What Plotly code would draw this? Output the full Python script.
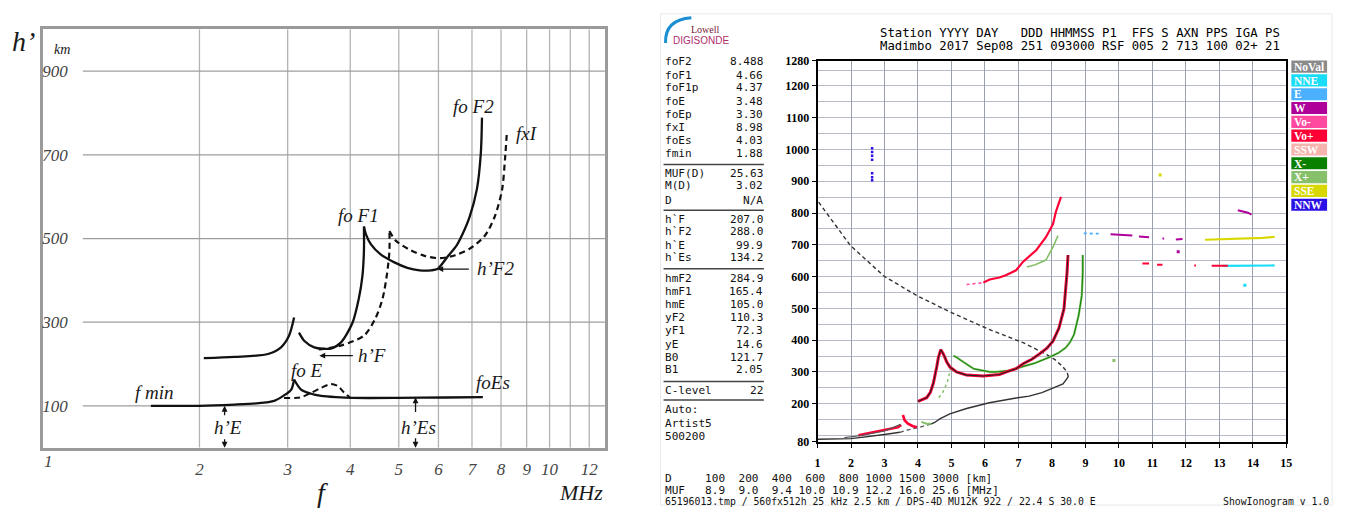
import numpy as np
import plotly.graph_objects as go

W, H = 1347, 515
def px(x): return x / W
def py(y): return 1 - y / H

# ================= LEFT PANEL DATA (schematic ionogram) =================
left_xticks = [1, 2, 3, 4, 5, 6, 7, 8, 9, 10, 12]
left_xgrid = [2, 3, 4, 5, 6, 7, 8, 9, 10, 11, 12]
left_yticks = [100, 300, 500, 700, 900]

e_o_f = [1.60, 2.0, 2.35, 2.6, 2.82, 2.95, 3.05, 3.09]
e_o_h = [100, 100, 103, 106, 112, 125, 139, 163]
es_f = [3.09, 3.19, 3.34, 3.5, 3.75, 4.05, 5.0, 6.2, 7.36]
es_h = [163, 139, 129, 124, 121, 119, 119, 120, 121]
e_x_f = [2.95, 3.1, 3.2, 3.34, 3.5, 3.66, 3.78, 3.88, 4.0]
e_x_h = [119, 119, 121, 131, 143, 152, 147, 133, 119]
f_lo1_f = [2.04, 2.35, 2.74, 2.91, 3.02, 3.09]
f_lo1_h = [214, 217, 224, 240, 268, 311]
f_lo2_f = [3.16, 3.24, 3.39, 3.66, 3.83, 4.04, 4.16, 4.23, 4.26, 4.26]
f_lo2_h = [275, 255, 240, 237, 251, 298, 356, 410, 471, 529]
f2_o_f = [4.26, 4.30, 4.40, 4.60, 4.90, 5.20, 5.50, 5.80, 5.97, 6.25, 6.52, 6.70, 6.93, 7.16, 7.29, 7.33]
f2_o_h = [529, 510, 486, 462, 443, 430, 424, 424, 427, 456, 483, 510, 553, 618, 703, 789]
f_x_lo_f = [3.46, 3.83, 4.26, 4.49, 4.64, 4.74, 4.79, 4.79]
f_x_lo_h = [235, 244, 268, 309, 356, 418, 472, 518]
f2_x_f = [4.79, 4.93, 5.28, 5.65, 6.05, 6.48, 6.93, 7.42, 7.77, 8.04, 8.15, 8.22]
f2_x_h = [518, 495, 472, 458, 453, 460, 476, 506, 552, 617, 692, 756]

# ================= RIGHT PANEL DATA (Digisonde ionogram) =================
right_xticks = list(range(1, 16))
right_yticks = [80, 200, 300, 400, 500, 600, 700, 800, 900, 1000, 1100, 1200, 1280]

prof_lo_f = [1.0, 2.0, 3.0, 3.46]
prof_lo_h = [88, 90, 103, 110]
prof_val_f = [3.46, 3.67, 3.97, 4.36]
prof_val_h = [110, 117, 124, 135]
prof_f_f = [4.36, 4.5, 4.65, 4.95, 5.45, 6.13, 6.93, 7.32, 7.7, 8.03, 8.33, 8.42, 8.49]
prof_f_h = [135, 141, 152, 168, 185, 203, 218, 224, 235, 249, 262, 275, 285]
prof_top_f = [8.49, 8.45, 8.33, 8.1, 7.82, 7.14, 6.14, 5.25, 4.95, 3.97, 2.99, 1.98, 1.02]
prof_top_h = [285, 300, 316, 338, 356, 392, 433, 475, 489, 540, 601, 698, 836]

hE_f = [1.8, 2.3, 3.0, 3.48]
hE_h = [93, 100, 114, 135]
redE_f = [2.22, 2.5, 2.8, 3.0, 3.2, 3.4, 3.5]
redE_h = [101, 107, 112, 117, 121, 126, 133]
redEs_f = [3.55, 3.6, 3.7, 3.85, 3.97]
redEs_h = [165, 148, 137, 129, 126]
grEs_f = [4.1, 4.25, 4.4]
grEs_h = [143, 137, 137]

redF_f = [4.0, 4.13, 4.26, 4.37, 4.46, 4.56, 4.61, 4.68, 4.76, 4.86, 4.95, 5.15, 5.45, 5.95,
          6.43, 6.64, 6.93, 7.14, 7.4, 7.62, 7.85, 8.03, 8.21, 8.36, 8.42, 8.45, 8.48]
redF_h = [207, 212, 219, 236, 265, 316, 346, 370, 356, 331, 316, 300, 290, 287,
          292, 300, 310, 326, 340, 356, 375, 397, 438, 499, 561, 612, 668]
grF2_f = [5.06, 5.15, 5.36, 5.66, 6.14, 6.34, 6.7, 7.14, 7.5, 7.92, 8.2, 8.42, 8.55, 8.66, 8.8, 8.89, 8.92, 8.92]
grF2_h = [351, 346, 331, 310, 300, 300, 304, 316, 328, 346, 360, 377, 395, 418, 479, 540, 612, 668]
grF1_f = [4.62, 4.72, 4.8, 4.88, 4.94, 4.98]
grF1_h = [219, 232, 249, 270, 295, 320]

pink2_f = [5.45, 5.55, 5.75, 5.95]
pink2_h = [575, 576, 578, 581]
red2_f = [5.95, 6.14, 6.43, 6.64, 6.93, 7.14, 7.53, 7.82, 8.03, 8.12, 8.27]
red2_h = [581, 591, 597, 605, 620, 647, 683, 724, 765, 805, 851]
grx2_f = [7.25, 7.5, 7.82, 8.03, 8.18]
grx2_h = [630, 637, 652, 693, 729]

ltblue_f = [8.95, 9.1, 9.3, 9.45]
ltblue_h = [736, 735, 736, 735]
mag_f = [9.75, 10.0, 10.2, 10.4, None, 10.6, 10.9, None, 11.3, 11.35, None, 11.7, 11.9]
mag_h = [733, 731, 729, 729, None, 726, 724, None, 720, 720, None, 717, 718]
yel_f = [12.57, 13.0, 13.5, 14.0, 14.3, 14.65]
yel_h = [716, 717, 718, 720, 722, 725]
magup_f = [13.55, 13.7, 13.85, 13.96]
magup_h = [809, 806, 801, 795]
cyan_f = [13.1, 13.5, 13.9, 14.3, 14.65]
cyan_h = [634, 634, 635, 634, 635]
red640_f = [10.7, 10.9, None, 11.14, 11.3, None, 12.25, 12.3, None, 12.77, 12.9, 13.1, 13.25]
red640_h = [641, 641, None, 637, 637, None, 635, 635, None, 634, 634, 634, 634]
nnw_f = [2.63, 2.63, 2.63, 2.63, 2.63, 2.63, 2.63]
nnw_h = [1004, 992, 980, 968, 925, 913, 903]
dots_f = [11.23, 11.77, 13.76, 9.85]
dots_h = [920, 678, 573, 336]
dots_c = ['#d8d800', '#b0009a', '#19dcf7', '#86c06a']

legend_names = ['NoVal', 'NNE', 'E', 'W', 'Vo-', 'Vo+', 'SSW', 'X-', 'X+', 'SSE', 'NNW']
legend_colors = ['#8a8a8a', '#19dcf7', '#4ab0ff', '#b0009a', '#ff4aa0', '#ff0036',
                 '#f5b5ae', '#0a8000', '#86c06a', '#d8d800', '#2a10e6']
C = dict(zip(legend_names, legend_colors))

tbl_names = ['foF2', 'foF1', 'foF1p', 'foE', 'foEp', 'fxI', 'foEs', 'fmin',
             'MUF(D)', 'M(D)', 'D',
             'h`F', 'h`F2', 'h`E', 'h`Es',
             'hmF2', 'hmF1', 'hmE', 'yF2', 'yF1', 'yE', 'B0', 'B1',
             'C-level', 'Auto:', 'Artist5', '500200']
tbl_values = ['8.488', '4.66', '4.37', '3.48', '3.30', '8.98', '4.03', '1.88',
              '25.63', '3.02', 'N/A',
              '207.0', '288.0', '99.9', '134.2',
              '284.9', '165.4', '105.0', '110.3', '72.3', '14.6', '121.7', '2.05',
              '22', '', '', '']
tbl_rows_y = [56, 70, 83, 97, 110, 124, 137, 151, 171, 184, 199, 218, 231, 245, 258,
              279, 292, 306, 319, 333, 347, 360, 373, 394, 414, 428, 441]
tbl_sep_y = [162, 209, 269, 385, 404]

header1 = 'Station YYYY DAY   DDD HHMMSS P1  FFS S AXN PPS IGA PS'
header2 = 'Madimbo 2017 Sep08 251 093000 RSF 005 2 713 100 02+ 21'
bottom1 = 'D     100  200  400  600  800 1000 1500 3000 [km]'
bottom2 = 'MUF   8.9  9.0  9.4 10.0 10.9 12.2 16.0 25.6 [MHz]'
footer = '65196013.tmp / 560fx512h 25 kHz 2.5 km / DPS-4D MU12K 922 / 22.4 S 30.0 E'
footer_r = 'ShowIonogram v 1.0'

def nb(s):
    return s.replace(' ', '\u00a0')

fig = go.Figure()

# ---------- left traces ----------
def lline(f, h, dash='solid', width=2.3):
    fig.add_trace(go.Scatter(x=f, y=h, mode='lines', xaxis='x', yaxis='y',
                             line=dict(color='#111111', width=width, dash=dash, shape='spline', smoothing=0.8),
                             showlegend=False, hoverinfo='skip'))

lline(e_o_f, e_o_h)
lline(es_f, es_h)
lline(e_x_f, e_x_h, dash='6px,4px', width=2)
lline(f_lo1_f, f_lo1_h)
lline(f_lo2_f, f_lo2_h)
lline(f2_o_f, f2_o_h)
lline(f_x_lo_f, f_x_lo_h, dash='6px,4px', width=2.2)
lline(f2_x_f, f2_x_h, dash='6px,4px', width=2.2)

# ---------- right traces ----------
def rline(f, h, color, width=2.5, dash='solid', opacity=1.0):
    fig.add_trace(go.Scatter(x=f, y=h, mode='lines', xaxis='x2', yaxis='y2', opacity=opacity,
                             line=dict(color=color, width=width, dash=dash), connectgaps=False,
                             showlegend=False, hoverinfo='skip'))

rline(prof_top_f, prof_top_h, '#333333', 1.4, '4px,3px')
rline(prof_lo_f, prof_lo_h, '#333333', 1.4)
rline(prof_val_f, prof_val_h, '#555555', 1.3, '4px,3px')
rline(prof_f_f, prof_f_h, '#333333', 1.4)
rline(redE_f, redE_h, C['Vo+'], 2.6)
rline(hE_f, hE_h, '#555555', 1.2)
rline(redEs_f, redEs_h, C['Vo+'], 2.6)
rline(grEs_f, grEs_h, C['X+'], 2.0)
rline(grF2_f, grF2_h, C['X+'], 2.3)
rline(grF2_f, grF2_h, C['X-'], 1.0)
rline(grF1_f, grF1_h, C['X+'], 1.5, 'dot')
rline(redF_f, redF_h, C['Vo+'], 3.0)
rline(redF_f, redF_h, '#222222', 1.1)
rline(pink2_f, pink2_h, C['Vo-'], 1.6, 'dot')
rline(red2_f, red2_h, C['Vo+'], 2.2)
rline(grx2_f, grx2_h, C['X+'], 1.6)
rline(ltblue_f, ltblue_h, C['E'], 1.8, 'dot')
rline(mag_f, mag_h, C['W'], 2.0)
rline(yel_f, yel_h, C['SSE'], 2.2)
rline(magup_f, magup_h, C['W'], 2.0)
rline(cyan_f, cyan_h, C['NNE'], 2.2)
rline(red640_f, red640_h, C['Vo+'], 2.0)
fig.add_trace(go.Scatter(x=nnw_f, y=nnw_h, mode='markers', xaxis='x2', yaxis='y2',
                         marker=dict(color=C['NNW'], size=2.5, symbol='square'),
                         showlegend=False, hoverinfo='skip'))
fig.add_trace(go.Scatter(x=dots_f, y=dots_h, mode='markers', xaxis='x2', yaxis='y2',
                         marker=dict(color=dots_c, size=3, symbol='square'),
                         showlegend=False, hoverinfo='skip'))

shapes = []
annotations = []

# ---------- left grid (shapes) ----------
for g in left_xgrid:
    shapes.append(dict(type='line', xref='x', yref='y', x0=g, x1=g, y0=0, y1=1000,
                       line=dict(color='#b3b3b3', width=1.3), layer='below'))
for g in left_yticks:
    shapes.append(dict(type='line', xref='x', yref='y', x0=1.17, x1=12.9, y0=g, y1=g,
                       line=dict(color='#9e9e9e', width=1.3), layer='below'))

def ltext(text, x, y, size=19, xanchor='center', color='#1a1a1a'):
    annotations.append(dict(text=text, x=px(x), y=py(y), xref='paper', yref='paper',
                            xanchor=xanchor, yanchor='middle', showarrow=False,
                            font=dict(family='Liberation Serif', style='italic', size=size, color=color)))

ltext('h\u2019', 21, 35, 28)
ltext('km', 59, 44, 14)
ltext('f', 322, 499, 28)
ltext('MHz', 582, 499, 22)
ltext('fo F2', 474, 102)
ltext('fxI', 528, 130)
ltext('fo F1', 358, 214)
ltext('fo E', 306, 374)
ltext('f min', 153, 396)
ltext('foEs', 493, 386)
ltext('h\u2019F2', 475, 269, xanchor='left')
ltext('h\u2019F', 355, 358, xanchor='left')
ltext('h\u2019E', 227, 432)
ltext('h\u2019Es', 418, 432)

# tick label "1" (hidden by plotly next to the inside y labels) drawn at the axis value
annotations.append(dict(text=str(left_xticks[0]), x=np.log10(left_xticks[0]), y=py(467), xref='x', yref='paper',
                        xanchor='center', yanchor='middle', showarrow=False,
                        font=dict(family='Liberation Serif', style='italic', size=17, color='#444444')))

def arrow(f, h, ax, ay):
    annotations.append(dict(x=np.log10(f), y=h, xref='x', yref='y', text='', showarrow=True,
                            ax=ax, ay=ay, axref='pixel', ayref='pixel', arrowhead=2,
                            arrowsize=0.9, arrowwidth=1.3, arrowcolor='#111111'))

arrow(3.47, 220, 35, 0)
arrow(5.97, 427, 33, 0)
arrow(2.245, 100, 0, 11)
arrow(2.245, 0, 0, -10)
arrow(5.40, 120, 0, 16)
arrow(5.40, 0, 0, -11)

# ---------- right panel decorations ----------
shapes.append(dict(type='rect', xref='paper', yref='paper', x0=px(662), x1=px(1338), y0=py(512), y1=py(7),
                   line=dict(color='#e8e8e8', width=1), layer='below'))
shapes.append(dict(type='path', xref='paper', yref='paper',
                   path=f'M {px(667)},{py(37)} Q {px(666)},{py(13)} {px(693)},{py(11)}',
                   line=dict(color='#1b8fd2', width=3)))
annotations.append(dict(text='Lowell', x=px(724), y=py(23), xref='paper', yref='paper', xanchor='right',
                        yanchor='middle', showarrow=False,
                        font=dict(family='Liberation Serif', size=10, color='#7a1a3a')))
annotations.append(dict(text='DIGISONDE', x=px(672), y=py(34), xref='paper', yref='paper', xanchor='left',
                        yanchor='middle', showarrow=False,
                        font=dict(family='Liberation Sans', size=10, color='#b02f6c')))

mono = 'DejaVu Sans Mono'
def rtext(text, x, y, size=11.1, xanchor='left', color='#111111', family=mono):
    annotations.append(dict(text=nb(text), x=px(x), y=py(y), xref='paper', yref='paper',
                            xanchor=xanchor, yanchor='middle', showarrow=False,
                            font=dict(family=family, size=size, color=color)))

rtext(header1, 881, 26.5, 12.3, color='#000000')
rtext(header2, 881, 40, 12.3, color='#000000')
for name, val, yy in zip(tbl_names, tbl_values, tbl_rows_y):
    rtext(name, 664, yy)
    if val:
        rtext(val, 767, yy, xanchor='right')
for yy in tbl_sep_y:
    shapes.append(dict(type='line', xref='paper', yref='paper', x0=px(665), x1=px(766), y0=py(yy), y1=py(yy),
                       line=dict(color='#444444', width=1.5)))
rtext(bottom1, 664, 485)
rtext(bottom2, 664, 497)
rtext(footer, 664, 508, 9.8)
rtext(footer_r, 1337, 508, 9.8, xanchor='right')

for i, (nm, col) in enumerate(zip(legend_names, legend_colors)):
    top = 55 + 14.2 * i
    shapes.append(dict(type='rect', xref='paper', yref='paper', x0=px(1297), x1=px(1333),
                       y0=py(top + 12.5), y1=py(top), fillcolor=col, line=dict(width=0)))
    annotations.append(dict(text=nm, x=px(1298), y=py(top + 6.5), xref='paper', yref='paper',
                            xanchor='left', yanchor='middle', showarrow=False,
                            font=dict(family='Liberation Serif', size=11.5, color='white', weight='bold')))

fig.update_layout(
    width=W, height=H, margin=dict(l=0, r=0, t=0, b=0),
    paper_bgcolor='white', plot_bgcolor='white', showlegend=False,
    xaxis=dict(type='log', domain=[px(40), px(606)], range=[np.log10(0.973), np.log10(12.9)],
               tickmode='array', tickvals=left_xticks, ticktext=[str(v) for v in left_xticks],
               showgrid=False, zeroline=False, showline=True, mirror=True, linecolor='#9a9a9a', linewidth=3,
               ticks='', ticklabelstandoff=4,
               tickfont=dict(family='Liberation Serif', style='italic', size=17, color='#444444'),
               anchor='y'),
    yaxis=dict(domain=[py(453), py(23)], range=[0, 1000], tickmode='array', tickvals=left_yticks,
               showgrid=False, zeroline=False, showline=True, mirror=True, linecolor='#9a9a9a', linewidth=3,
               ticks='', ticklabelposition='inside',
               tickfont=dict(family='Liberation Serif', style='italic', size=17, color='#444444'),
               anchor='x'),
    xaxis2=dict(domain=[px(820), px(1292)], range=[1, 15], tickmode='array', tickvals=right_xticks,
                showgrid=True, gridcolor='#9aa0ae', gridwidth=1.3, zeroline=False,
                showline=True, mirror=True, linecolor='#000000', linewidth=1.5,
                ticks='outside', ticklen=4, tickcolor='#000000', ticklabelstandoff=5,
                tickfont=dict(family='Liberation Serif', size=12, color='#000000', weight='bold'),
                anchor='y2'),
    yaxis2=dict(domain=[py(447), py(55)], range=[80, 1280], tickmode='array', tickvals=right_yticks,
                showgrid=False, zeroline=False, showline=True, mirror=True, linecolor='#000000', linewidth=1.5,
                ticks='outside', ticklen=4, tickcolor='#000000',
                minor=dict(tick0=100, dtick=50, showgrid=True, gridcolor='#b7bcc8', gridwidth=1.3, ticks=''),
                tickfont=dict(family='Liberation Serif', size=12, color='#000000', weight='bold'),
                anchor='x2'),
    shapes=shapes, annotations=annotations,
)

fig.write_html('out.html')
